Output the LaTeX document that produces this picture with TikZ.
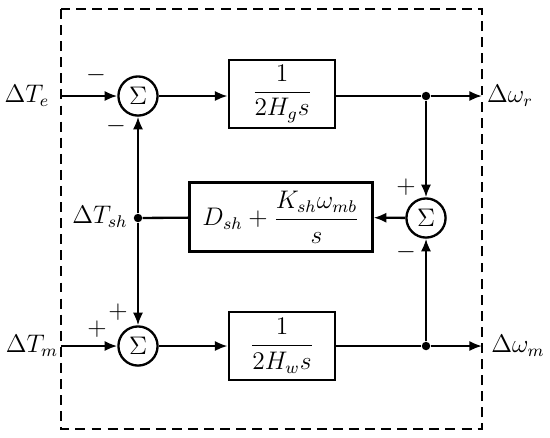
\documentclass[tikz,border=0pt]{standalone}
\usepackage{amsmath}
\usepackage{tikz}
\usetikzlibrary{arrows.meta, positioning}

\begin{document}
\begin{tikzpicture}[
    x=0.0166cm, y=-0.0166cm,
    every node/.style={font=\large},
    sumnode/.style={circle, draw, line width=1.1pt, minimum size=0.65cm, inner sep=0pt},
    block/.style={rectangle, draw, line width=1.1pt, minimum width=1.77cm, minimum height=1.12cm, inner sep=2pt},
    wide/.style={block, minimum width=3.04cm, minimum height=1.15cm},
    dot/.style={circle, fill, inner sep=0pt, minimum size=4pt},
    sig/.style={line width=1.1pt},
    arrow/.style={sig, -{Latex[length=2.1mm, width=1.7mm]}}
]
\useasboundingbox (0,0) rectangle (550,437);

% Frame
\draw[line width=1.1pt, dash pattern=on 4.7pt off 2.9pt] (61,9) rectangle (482,429);

% Nodes
\node[sumnode] (sumg) at (138,96) {$\Sigma$};
\node[block] (gen) at (282,94) {$\dfrac{1}{2H_g s}$};
\node[dot] (jr) at (426,96) {};
\node[sumnode] (sumd) at (426,218) {$\Sigma$};
\node[wide] (shaft) at (281,217) {$D_{sh}+\dfrac{K_{sh}\omega_{mb}}{s}$};
\node[dot] (jsh) at (138,218) {};
\node[sumnode] (sumw) at (138,346) {$\Sigma$};
\node[block] (tur) at (282,346) {$\dfrac{1}{2H_w s}$};
\node[dot] (jm) at (426,346) {};

\coordinate (ine) at (61,96);
\coordinate (inm) at (61,346);
\coordinate (outr) at (482,96);
\coordinate (outm) at (482,346);

% Labels
\node (te) at (27,96) {$\Delta T_e$};
\node (tm) at (32,346) {$\Delta T_m$};
\node (tsh) at (100,217) {$\Delta T_{sh}$};
\node (wr) at (510,96) {$\Delta\omega_r$};
\node (wm) at (518,346) {$\Delta\omega_m$};

\node (s1) at (96,75) {$-$};
\node (s2) at (116,126) {$-$};
\node (s3) at (97,329) {$+$};
\node (s4) at (118,312) {$+$};
\node (s5) at (406,187) {$+$};
\node (s6) at (406,252) {$-$};

% Arrows
\draw[arrow] (ine) -- (sumg);
\draw[arrow] (sumg) -- (gen.west |- sumg);
\draw[sig] (gen.east |- jr) -- (jr);
\draw[arrow] (jr) -- (outr);
\draw[arrow] (jr) -- (sumd);
\draw[arrow] (sumd) -- (shaft);
\draw[sig] (shaft) -- (jsh);
\draw[arrow] (jsh) -- (sumg);
\draw[arrow] (jsh) -- (sumw);
\draw[arrow] (inm) -- (sumw);
\draw[arrow] (sumw) -- (tur);
\draw[sig] (tur) -- (jm);
\draw[arrow] (jm) -- (outm);
\draw[arrow] (jm) -- (sumd);

\end{tikzpicture}
\end{document}
